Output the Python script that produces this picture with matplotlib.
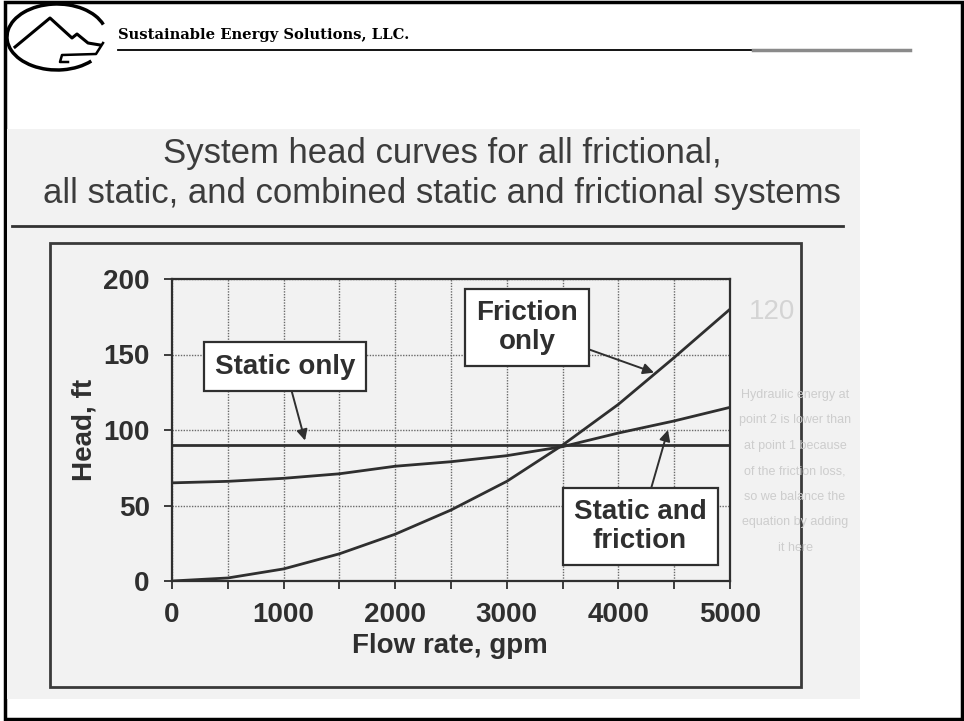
import numpy as np
import matplotlib
matplotlib.use("Agg")
import matplotlib.pyplot as plt
from matplotlib.patches import Rectangle, Arc

# values (flow in gpm, head in ft)
flow = [0, 500, 1000, 1500, 2000, 2500, 3000, 3500, 4000, 4500, 5000]
static_head = [90, 90, 90, 90, 90, 90, 90, 90, 90, 90, 90]
friction_head = [0, 2, 8, 18, 31, 47, 66, 90, 117, 148, 180]
combined_head = [65, 66, 68, 71, 76, 79, 83, 89, 98, 106, 115]

x_ticks = [0, 1000, 2000, 3000, 4000, 5000]
y_ticks = [0, 50, 100, 150, 200]

title_lines = ["System head curves for all frictional,",
               "all static, and combined static and frictional systems"]
# faint text showing through from the back of the scanned page
ghost_lines = ["Hydraulic energy at", "point 2 is lower than", "at point 1 because",
               "of the friction loss,", "so we balance the", "equation by adding",
               "it here"]

W, H = 964, 721
ink = "#2f2f2f"
sans = ["Liberation Sans", "DejaVu Sans"]

fig = plt.figure(figsize=(W / 100, H / 100), dpi=100)
fig.patch.set_facecolor("white")

# background layer in pixel coordinates (slide frame, header, scanned page)
bg = fig.add_axes([0, 0, 1, 1], zorder=0)
bg.set_xlim(0, W)
bg.set_ylim(H, 0)
bg.axis("off")

bg.add_patch(Rectangle((5, 2), 957, 717, fill=False, ec="black", lw=2.5))
bg.add_patch(Rectangle((7, 129), 853, 570, fc="#f2f2f2", ec="none"))

# logo
bg.add_patch(Arc((57, 37), 100, 66, theta1=35, theta2=345, color="black", lw=2.5))
bg.plot([15, 50, 72, 77, 88, 100], [47, 18, 38, 34, 43, 45], color="black", lw=2.2)
bg.plot([103, 96, 62, 60, 68], [43, 54, 55, 62, 62], color="black", lw=1.8)

bg.text(118, 39, "Sustainable Energy Solutions, LLC.", fontsize=10.6,
        fontweight="bold", family="DejaVu Serif", va="baseline", ha="left")
bg.plot([118, 753], [50, 50], color="black", lw=1.3)
bg.plot([753, 910], [50, 50], color="#8a8a8a", lw=2.5)

for i, line in enumerate(ghost_lines):
    bg.text(795, 395 + i * 25.5, line, fontsize=9, family=sans, color="#cdcdcd",
            ha="center", va="center")
bg.text(772, 312, "120", fontsize=20, family=sans, color="#d4d4d4",
        ha="center", va="center")

# scanned slide title
bg.text(442, 163, title_lines[0], fontsize=25, family=sans, color="#3c3c3c",
        ha="center", va="baseline")
bg.text(442, 203, title_lines[1], fontsize=25, family=sans, color="#3c3c3c",
        ha="center", va="baseline")
bg.plot([12, 843], [226, 226], color="#333333", lw=2)
bg.add_patch(Rectangle((50, 243), 751, 444, fill=False, ec="#3a3a3a", lw=2))

# chart
ax = fig.add_axes([172 / W, 1 - 581 / H, 558 / W, 302 / H], zorder=2)
ax.patch.set_alpha(0)

ax.plot(flow, static_head, color=ink, lw=2, zorder=3)
ax.plot(flow, friction_head, color=ink, lw=2, zorder=3)
ax.plot(flow, combined_head, color=ink, lw=2, zorder=3)

ax.set_xlim(0, 5000)
ax.set_ylim(0, 200)
ax.set_xticks(x_ticks)
ax.set_xticks([500, 1500, 2500, 3500, 4500], minor=True)
ax.set_yticks(y_ticks)
ax.grid(True, which="both", color="#6a6a6a", lw=1, ls=(0, (1, 1)))
ax.tick_params(which="both", direction="out", length=6, width=1.3, color=ink)
ax.tick_params(axis="x", pad=9)
ax.tick_params(axis="y", pad=10)
for lab in ax.get_xticklabels() + ax.get_yticklabels():
    lab.set_fontsize(20)
    lab.set_fontweight("bold")
    lab.set_family(sans)
    lab.set_color(ink)
for s in ax.spines.values():
    s.set_color(ink)
    s.set_linewidth(1.6)

ax.set_xlabel("Flow rate, gpm", fontsize=20, fontweight="bold", family=sans, color=ink)
ax.set_ylabel("Head, ft", fontsize=20, fontweight="bold", family=sans, color=ink)
ax.xaxis.set_label_coords(0.498, -0.172)
ax.yaxis.set_label_coords(-0.133, 0.5)

box = dict(boxstyle="square,pad=0.4", fc="white", ec=ink, lw=1.6)
arrow = dict(arrowstyle="-|>", color=ink, lw=1.4, mutation_scale=16, shrinkA=0, shrinkB=0)

ax.annotate("Static only", xy=(1192, 93), xytext=(1013, 142), fontsize=20,
            fontweight="bold", family=sans, color=ink, ha="center", va="center",
            bbox=box, arrowprops=arrow, zorder=5)
ax.annotate("Friction\nonly", xy=(4319, 138), xytext=(3181, 168), fontsize=20,
            fontweight="bold", family=sans, color=ink, ha="center", va="center",
            linespacing=1.15, bbox=box, arrowprops=arrow, zorder=5)
ax.annotate("Static and\nfriction", xy=(4444, 100), xytext=(4194, 36), fontsize=20,
            fontweight="bold", family=sans, color=ink, ha="center", va="center",
            linespacing=1.15, bbox=box, arrowprops=arrow, zorder=5)

fig.savefig("out.png", dpi=100)
